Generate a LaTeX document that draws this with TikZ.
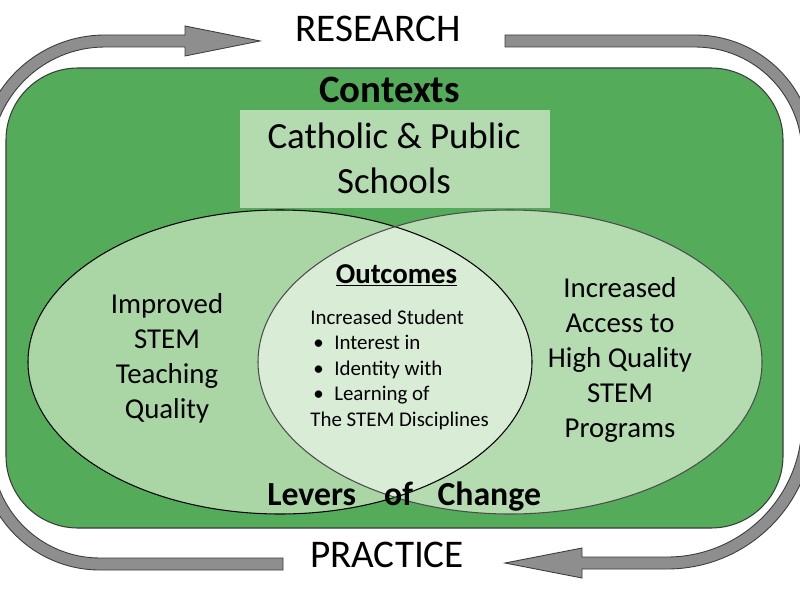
\documentclass[tikz,border=0pt]{standalone}
\usepackage{xcolor}
\usepackage{tikz}
\usepackage{fontspec}
\setmainfont{Carlito}
\definecolor{ctxgreen}{RGB}{84,172,90}
\definecolor{ctxbox}{RGB}{180,218,176}
\definecolor{leftlever}{RGB}{170,214,166}
\definecolor{rightlever}{RGB}{181,219,177}
\definecolor{outcome}{RGB}{217,236,214}
\definecolor{bandgray}{RGB}{142,142,142}
\definecolor{bandline}{RGB}{60,60,60}

\begin{document}
\begin{tikzpicture}[
	band/.style={fill=bandgray, draw=bandline, line width=0.5pt},
	cycletext/.style={anchor=base, font=\fontsize{22.3pt}{26pt}\selectfont},
	levertext/.style={anchor=base, align=center, font=\fontsize{16.4pt}{19.8pt}\selectfont},
	]
\useasboundingbox (0,0) rectangle (16,12);
\clip (0,0) rectangle (16,12);
\draw[band]
	(-0.42,5.0) -- (-0.42,8.78) arc[start angle=180, end angle=90, radius=2.52]
	-- (3.7,11.3) -- (3.7,11.48) -- (5.2,11.18) -- (3.7,10.88) -- (3.7,11.06)
	-- (2.1,11.06) arc[start angle=90, end angle=180, radius=2.28]
	-- (-0.18,5.0) -- cycle;
\draw[band]
	(10.1,11.3) -- (13.9,11.3) arc[start angle=90, end angle=0, radius=2.38]
	-- (16.28,6.0) -- (16.04,6.0) -- (16.04,8.92) arc[start angle=0, end angle=90, radius=2.14]
	-- (10.1,11.06) -- cycle;
\draw[band]
	(16.28,6.0) -- (16.28,3.56) arc[start angle=0, end angle=-90, radius=2.94]
	-- (11.64,0.62) -- (11.64,0.44) -- (10.1,0.74) -- (11.64,1.04) -- (11.64,0.86)
	-- (13.34,0.86) arc[start angle=-90, end angle=0, radius=2.7]
	-- (16.04,6.0) -- cycle;
\draw[band]
	(5.66,0.84) -- (2.0,0.84) arc[start angle=270, end angle=180, radius=2.16]
	-- (-0.16,6.0) -- (-0.4,6.0) -- (-0.4,3.0) arc[start angle=180, end angle=270, radius=2.4]
	-- (5.66,0.6) -- cycle;

\draw[fill=ctxgreen, draw=bandline, line width=0.6pt, rounded corners=1.44cm]
	(0.12,1.44) rectangle (15.66,10.64);
\fill[ctxbox] (4.8,7.84) rectangle (11.0,9.8);

\fill[leftlever] (5.6,4.76) ellipse [x radius=5.04, y radius=3.04];
\fill[rightlever] (10.2,4.76) ellipse [x radius=5.04, y radius=3.04];
\begin{scope}
	\clip (5.6,4.76) ellipse [x radius=5.04, y radius=3.04];
	\fill[outcome] (10.2,4.76) ellipse [x radius=5.04, y radius=3.04];
\end{scope}
\draw[line width=0.6pt] (5.6,4.76) ellipse [x radius=5.04, y radius=3.04];
\draw[line width=0.6pt, draw=black!70] (10.2,4.76) ellipse [x radius=5.04, y radius=3.04];

\draw
	(7.56,11.16) node[cycletext] (research){RESEARCH}
	(7.74,0.66) node[cycletext] (practice){PRACTICE}
	(7.79,9.94) node[anchor=base, font=\bfseries\fontsize{22.1pt}{26pt}\selectfont] (contexts){Contexts}
	(7.88,8.14) node[anchor=base, align=center, font=\fontsize{21pt}{25.5pt}\selectfont] (schools){Catholic \& Public\\Schools}
	(3.34,3.64) node[levertext] (teaching){Improved\\STEM\\Teaching\\Quality}
	(12.4,3.26) node[levertext] (access){Increased\\Access to\\High Quality\\STEM\\Programs}
	(7.93,6.34) node[anchor=base, font=\bfseries\fontsize{16.4pt}{19.8pt}\selectfont] (outcomes){\underline{Outcomes}}
	(6.2,3.48) node[anchor=base west, align=left, inner sep=0pt, font=\fontsize{11.9pt}{14.5pt}\selectfont] (interest){Increased Student\\
		\hspace{1.7pt}\textbullet\hspace{6pt}Interest in\\
		\hspace{1.7pt}\textbullet\hspace{6pt}Identity with\\
		\hspace{1.7pt}\textbullet\hspace{6pt}Learning of\\
		The STEM Disciplines}
	(5.34,1.9) node[anchor=base west, inner sep=0pt, font=\bfseries\fontsize{19.2pt}{23pt}\selectfont] (levers){Levers\hspace{16pt}of\hspace{14pt}Change};
\end{tikzpicture}
\end{document}
